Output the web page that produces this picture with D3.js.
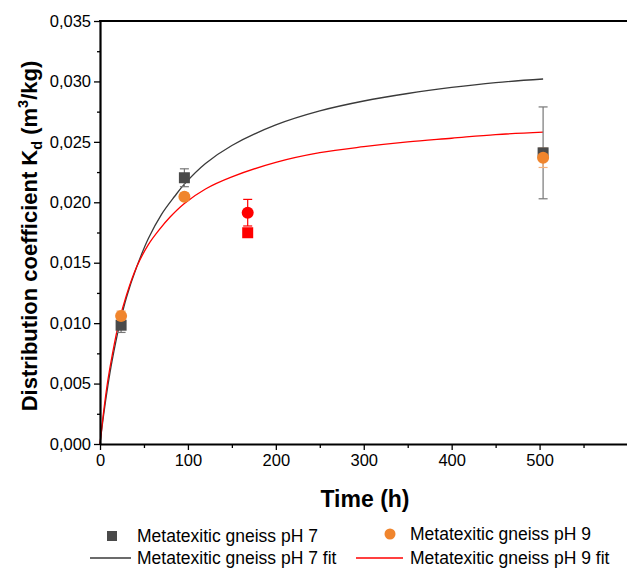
<!DOCTYPE html>
<html>
<head>
<meta charset="utf-8">
<script src="https://cdn.jsdelivr.net/npm/d3@7"></script>
<style>
  html, body { margin: 0; padding: 0; background: #fff; }
  svg { display: block; font-family: "Liberation Sans", Arial, sans-serif; }
</style>
</head>
<body>
<svg id="chart" width="627" height="568"></svg>
<script>
// Sorption time series (Kd in m3/kg)
const times = [24, 96, 168, 504];
const kdPH7 = [0.00983, 0.02203, 0.01748, 0.02409];
const errPH7 = [0.0006, 0.00074, 0, 0.0038];
const kdPH9 = [0.0106, 0.02046, 0.01914, 0.02368];
const errPH9 = [0.0004, 0.0003, 0.0011, 0.0008];
const flagged = [false, false, true, false];

// Fitted kinetic curves
const fitTimes7 = [0, 4, 9, 14, 21.6, 30, 42, 55, 70, 85, 96, 120, 150, 200, 250, 300, 350, 400, 450, 504];
const fitPH7 = [0, 0.00234, 0.00485, 0.00698, 0.00967, 0.0121, 0.0147, 0.0170, 0.0190, 0.0205, 0.0215, 0.0232, 0.0247, 0.0264, 0.02756, 0.02838, 0.0290, 0.0295, 0.0299, 0.0302];
const fitTimes9 = [0, 4, 9, 14, 21.6, 30, 42, 55, 67, 80, 96, 120, 150, 200, 250, 300, 350, 400, 450, 504];
const fitPH9 = [0, 0.0026, 0.0053, 0.0074, 0.0101, 0.0123, 0.0147, 0.0165, 0.0177, 0.0188, 0.0199, 0.0211, 0.0221, 0.0233, 0.0241, 0.0246, 0.0250, 0.0253, 0.0256, 0.0258];

const xTicks = [0, 100, 200, 300, 400, 500];
const xMinor = [50, 150, 250, 350, 450, 550];
const yTicks = [0, 0.005, 0.010, 0.015, 0.020, 0.025, 0.030, 0.035];
const yMinor = [0.0025, 0.0075, 0.0125, 0.0175, 0.0225, 0.0275, 0.0325];

const legendLabels = ["Metatexitic gneiss pH 7", "Metatexitic gneiss pH 9",
                      "Metatexitic gneiss pH 7 fit", "Metatexitic gneiss pH 9 fit"];

const GREY = "#4a4a4a", ORANGE = "#f0852d", RED = "#ff0000", FIT7 = "#3a3a3a";

const svg = d3.select("#chart");
const mLeft = 100, mRight = 627.5, mTop = 21, mBottom = 444;

const x = d3.scaleLinear().domain([0, 600]).range([mLeft, mRight]);
const y = d3.scaleLinear().domain([0, 0.035]).range([mBottom, mTop]);
const fmt = d => d3.format(".3f")(d).replace(".", ",");

// Fit curves
const line = d3.line().curve(d3.curveCatmullRom.alpha(0.5));
const plot = svg.append("g");
plot.append("path")
  .attr("d", line(fitTimes7.map((t, i) => [x(t), y(fitPH7[i])])))
  .attr("fill", "none").attr("stroke", FIT7).attr("stroke-width", 1.3);
plot.append("path")
  .attr("d", line(fitTimes9.map((t, i) => [x(t), y(fitPH9[i])])))
  .attr("fill", "none").attr("stroke", RED).attr("stroke-width", 1.3);

// Error bars
function errorBars(vals, errs, colorFn) {
  times.forEach((t, i) => {
    if (!errs[i]) return;
    const g = plot.append("g").attr("stroke", colorFn(i)).attr("stroke-width", 1.2);
    const cx = x(t), y0 = y(vals[i] - errs[i]), y1 = y(vals[i] + errs[i]);
    g.append("line").attr("x1", cx).attr("x2", cx).attr("y1", y0).attr("y2", y1);
    g.append("line").attr("x1", cx - 4.5).attr("x2", cx + 4.5).attr("y1", y0).attr("y2", y0);
    g.append("line").attr("x1", cx - 4.5).attr("x2", cx + 4.5).attr("y1", y1).attr("y2", y1);
  });
}
errorBars(kdPH7, errPH7, i => flagged[i] ? RED : "#777");
errorBars(kdPH9, errPH9, i => flagged[i] ? RED : "#f5b07a");

// Markers
plot.selectAll("rect.p7").data(times).join("rect").attr("class", "p7")
  .attr("x", (t) => x(t) - 5.5).attr("y", (t, i) => y(kdPH7[i]) - 5.5)
  .attr("width", 11).attr("height", 11)
  .attr("fill", (t, i) => flagged[i] ? RED : GREY);
plot.selectAll("circle.p9").data(times).join("circle").attr("class", "p9")
  .attr("cx", t => x(t)).attr("cy", (t, i) => y(kdPH9[i])).attr("r", 6)
  .attr("fill", (t, i) => flagged[i] ? RED : ORANGE);

// Axes
const axisG = svg.append("g");
axisG.append("g").attr("transform", `translate(0,${mBottom})`)
  .call(d3.axisBottom(x).tickValues(xTicks).tickSize(6).tickSizeOuter(0).tickPadding(4));
axisG.append("g").attr("transform", `translate(${mLeft},0)`)
  .call(d3.axisLeft(y).tickValues(yTicks).tickFormat(fmt).tickSize(6).tickSizeOuter(0).tickPadding(3));
axisG.append("g").attr("transform", `translate(0,${mBottom})`)
  .call(d3.axisBottom(x).tickValues(xMinor).tickSize(4).tickSizeOuter(0).tickFormat(""))
  .select(".domain").remove();
axisG.append("g").attr("transform", `translate(${mLeft},0)`)
  .call(d3.axisLeft(y).tickValues(yMinor).tickSize(3).tickSizeOuter(0).tickFormat(""))
  .select(".domain").remove();
axisG.selectAll(".tick line").attr("stroke", "#000").attr("stroke-width", 1.3);
axisG.selectAll(".domain").attr("stroke", "#000").attr("stroke-width", 2.2);
axisG.selectAll(".tick text").attr("fill", "#000").style("font-size", "16.5px")
  .style("font-family", "'Liberation Sans', Arial, sans-serif");
// top frame line
axisG.append("line").attr("x1", mLeft - 1).attr("x2", mRight).attr("y1", mTop).attr("y2", mTop)
  .attr("stroke", "#000").attr("stroke-width", 2.2);

// Axis titles
svg.append("text").attr("x", 365).attr("y", 507)
  .attr("text-anchor", "middle").attr("font-weight", "bold").attr("font-size", 23)
  .text("Time (h)");
const yt = svg.append("text")
  .attr("transform", `translate(37,236) rotate(-90)`)
  .attr("text-anchor", "middle").attr("font-weight", "bold").attr("font-size", 22);
yt.append("tspan").text("Distribution coefficient K");
yt.append("tspan").attr("font-size", 14.5).attr("dy", 5).text("d");
yt.append("tspan").attr("dy", -5).text(" (m");
yt.append("tspan").attr("font-size", 14.5).attr("dy", -9).text("3");
yt.append("tspan").attr("dy", 9).text("/kg)");

// Legend
const lg = svg.append("g").style("font-size", "17.5px");
lg.append("rect").attr("x", 107).attr("y", 531).attr("width", 10).attr("height", 10).attr("fill", GREY);
lg.append("text").attr("x", 137).attr("y", 542).text(legendLabels[0]);
lg.append("circle").attr("cx", 390).attr("cy", 534).attr("r", 5.5).attr("fill", ORANGE);
lg.append("text").attr("x", 410).attr("y", 540).text(legendLabels[1]);
lg.append("line").attr("x1", 90).attr("x2", 131).attr("y1", 558).attr("y2", 558)
  .attr("stroke", FIT7).attr("stroke-width", 1.3);
lg.append("text").attr("x", 137).attr("y", 564).text(legendLabels[2]);
lg.append("line").attr("x1", 356).attr("x2", 403).attr("y1", 558).attr("y2", 558)
  .attr("stroke", RED).attr("stroke-width", 1.3);
lg.append("text").attr("x", 410).attr("y", 564).text(legendLabels[3]);
</script>
</body>
</html>
